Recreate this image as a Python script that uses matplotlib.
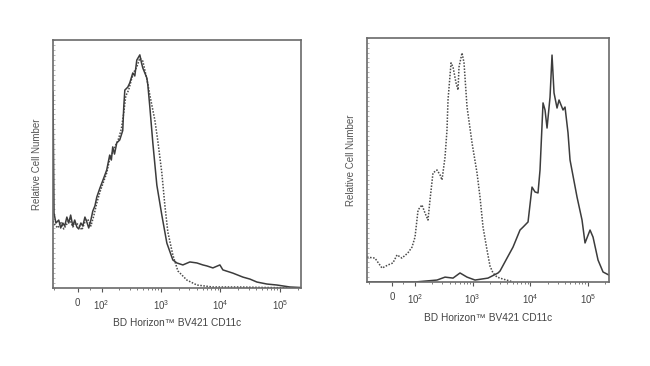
import matplotlib
matplotlib.use("Agg")
import matplotlib.pyplot as plt
from matplotlib.ticker import FixedLocator, MultipleLocator, NullFormatter

plt.rcParams['font.family'] = ['Liberation Sans', 'DejaVu Sans']
plt.rcParams['mathtext.default'] = 'regular'

# ---------------- data (fluorescence units, relative cell number %) ----------------
left_solid_x = [-104, -100, -92, -80, -72, -63, -55, -46, -38, -30,
                -21, -13, -4, 4, 13, 21, 30, 38, 46, 55,
                63, 72, 80, 93, 109, 122, 137, 146, 154, 165,
                180, 202, 227, 236, 246, 276, 298, 335, 362, 391,
                440, 470, 494, 534, 577, 600, 648, 728, 850, 1031,
                1253, 1581, 1846, 2328, 3053, 4006, 5056, 5901, 7443, 9772,
                10968, 16150, 23800, 31240, 41020, 60400, 88940, 147200, 220000]
left_solid_y = [79.0, 30.2, 26.2, 27.4, 24.2, 26.2, 25.0, 28.6, 26.2, 29.4,
                25.0, 27.4, 24.6, 23.8, 26.2, 25.0, 28.6, 26.6, 24.2, 27.4,
                31.0, 33.1, 36.7, 40.3, 44.4, 47.6, 53.6, 51.6, 56.9, 54.0,
                58.5, 59.7, 63.5, 73.0, 79.8, 81.0, 82.7, 86.7, 85.5, 91.9,
                94.0, 90.7, 88.7, 86.7, 84.7, 81.9, 73.0, 58.5, 41.5, 29.4,
                18.1, 11.3, 10.1, 9.3, 10.5, 10.1, 9.3, 8.9, 8.1, 9.3,
                7.3, 6.0, 4.4, 3.6, 2.4, 1.6, 1.2, 0.4, 0.2]

left_dot_x = [-104, -96, -84, -72, -59, -46, -34, -21, -8, 4,
              17, 30, 42, 55, 67, 80, 93, 109, 122, 137,
              154, 170, 190, 215, 236, 255, 285, 320, 350, 391,
              440, 494, 534, 600, 648, 787, 883, 1031, 1158, 1301,
              1581, 1918, 2717, 4006, 7443, 20000, 60000, 220000]
left_dot_y = [27.0, 25.4, 24.2, 26.6, 23.8, 25.8, 27.8, 24.6, 26.2, 25.4,
              23.4, 26.6, 27.8, 25.0, 29.0, 34.3, 38.7, 43.1, 46.4, 52.0,
              54.8, 57.3, 59.7, 64.1, 70.6, 77.4, 79.8, 84.3, 87.1, 89.1,
              92.7, 91.5, 87.9, 82.3, 77.8, 67.7, 59.3, 46.4, 33.5, 22.6,
              13.3, 6.9, 3.2, 1.2, 0.4, 0.4, 0.2, 0.0]

right_dot_x = [-108, -74, -43, -17, 4, 22, 43, 69, 87, 100,
               113, 132, 149, 168, 182, 205, 241, 272, 294, 332,
               359, 374, 422, 457, 515, 558, 580, 655, 709, 800,
               977, 1192, 1344, 1516, 1778, 2005, 2260, 2655, 3372, 4460,
               5025]
right_dot_y = [10.2, 9.8, 5.7, 7.0, 7.8, 11.1, 9.8, 11.9, 14.3, 18.4,
               29.5, 31.6, 28.3, 25.4, 33.6, 44.7, 45.9, 43.9, 41.8, 51.2,
               62.3, 74.6, 89.8, 88.1, 81.6, 78.7, 88.1, 93.9, 89.8, 71.7,
               57.0, 44.7, 34.8, 22.5, 13.1, 6.5, 3.7, 2.0, 1.2, 0.4,
               0.0]

right_solid_x = [-108, 100, 241, 332, 457, 604, 800, 1101, 1850, 2761,
                 2990, 3955, 5025, 6650, 7500, 9160, 10740, 12110, 13650, 14790,
                 16680, 18070, 19580, 22070, 23900, 25880, 29190, 31620, 37090, 40180,
                 45300, 49090, 64940, 79270, 89380, 109200, 123100, 150300, 183600, 230000]
right_solid_y = [0.0, 0.0, 0.8, 2.0, 1.6, 3.7, 2.0, 0.8, 1.6, 3.7,
                 4.5, 9.8, 14.3, 21.3, 22.5, 24.6, 38.9, 36.9, 36.5, 45.9,
                 73.4, 70.5, 63.1, 75.8, 93.0, 77.5, 71.3, 74.6, 70.5, 71.7,
                 61.1, 50.0, 34.8, 25.4, 16.0, 21.3, 18.4, 9.0, 4.1, 2.9]

major_ticks = [0, 100, 1000, 10000, 100000]
major_labels = ['0', '$10^2$', '$10^3$', '$10^4$', '$10^5$']
minor_ticks = [-100, 50] + [k * 10 ** d for d in (2, 3, 4) for k in range(2, 10)] + [200000]

xlabel_text = 'BD Horizon\u2122 BV421 CD11c'
ylabel_text = 'Relative Cell Number'

# ---------------- figure ----------------
fig = plt.figure(figsize=(6.5, 3.66), dpi=100)
axL = fig.add_axes([53 / 650, (366 - 288) / 366, 248 / 650, 248 / 366])
axR = fig.add_axes([367 / 650, (366 - 282) / 366, 242 / 650, 244 / 366])

solid_kw = dict(color='#3c3c3c', lw=1.1, solid_joinstyle='round')
dot_kw = dict(color='#4a4a4a', lw=1.1, linestyle=(0, (1.0, 1.0)))

axL.plot(left_dot_x, left_dot_y, **dot_kw)
axL.plot(left_solid_x, left_solid_y, **solid_kw)
axR.plot(right_dot_x, right_dot_y, **dot_kw)
axR.plot(right_solid_x, right_solid_y, **solid_kw)

for ax, xlim, xl_y in ((axL, (-104, 2.26e5), -0.121), (axR, (-108, 2.33e5), -0.129)):
    ax.set_xscale('symlog', linthresh=100, linscale=0.36)
    ax.set_xlim(*xlim)
    ax.set_ylim(0, 100)
    ax.xaxis.set_major_locator(FixedLocator(major_ticks))
    ax.set_xticklabels(major_labels)
    ax.xaxis.set_minor_locator(FixedLocator(minor_ticks))
    ax.xaxis.set_minor_formatter(NullFormatter())
    ax.tick_params(axis='x', which='major', direction='out', length=3, width=0.8,
                   color='#555555', labelsize=7, labelcolor='#444444', pad=4)
    ax.tick_params(axis='x', which='minor', direction='out', length=1.6, width=0.6,
                   color='#666666')
    ax.set_yticks([])
    ax.yaxis.set_minor_locator(MultipleLocator(2))
    ax.tick_params(axis='y', which='minor', direction='in', length=1.5, width=0.5,
                   color='#999999')
    for sp in ax.spines.values():
        sp.set_color('#6a6a6a')
        sp.set_linewidth(1.2)
    ax.set_xlabel(xlabel_text, fontsize=7.3, color='#444444')
    ax.xaxis.set_label_coords(0.5, xl_y)
    ax.set_ylabel(ylabel_text, fontsize=7, color='#555555')
    ax.yaxis.set_label_coords(-0.045, 0.5)

fig.savefig('out.png', dpi=100, facecolor='white')
